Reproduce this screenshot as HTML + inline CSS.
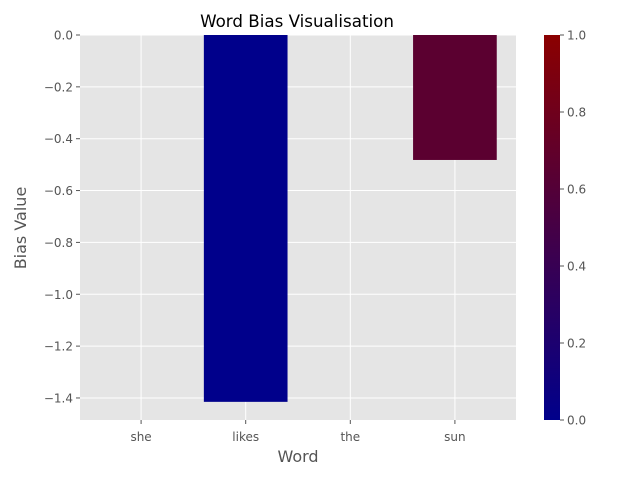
<!DOCTYPE html>
<html><head><meta charset="utf-8"><style>
body{margin:0;background:#fff;}
svg{font-family:"DejaVu Sans","Liberation Sans",sans-serif;}
</style></head><body>
<svg id="chart" width="640" height="480">
<defs><linearGradient id="cb" x1="0" y1="1" x2="0" y2="0">
<stop offset="0" stop-color="#00008b"/><stop offset="1" stop-color="#8b0000"/></linearGradient></defs>
<rect x="80" y="35" width="436" height="385" fill="#e5e5e5"/>
<g id="grid"></g><g id="bars"></g><g id="ticks"></g>
<text x="297" y="27" text-anchor="middle" font-size="16.7" fill="#000">Word Bias Visualisation</text>
<text x="298" y="462" text-anchor="middle" font-size="16" fill="#555">Word</text>
<text transform="translate(26,228) rotate(-90)" text-anchor="middle" font-size="16" fill="#555">Bias Value</text>
<rect x="544" y="35" width="16" height="385" fill="url(#cb)"/>
<g id="cbticks"></g>
</svg>
<script>
const categories=["she","likes","the","sun"];
const values=[0,-1.415,0,-0.482];
const barColors=["#00008b","#00008b","#00008b","#5b0030"];
const yTicks=[0,-0.2,-0.4,-0.6,-0.8,-1.0,-1.2,-1.4];
const cbTicks=[0,0.2,0.4,0.6,0.8,1.0];
const NS="http://www.w3.org/2000/svg";
const L=80,R=516,T=35,B=420,yMin=-1.485,xMin=-0.584,xMax=3.584;
const y=v=>T+(0-v)/(0-yMin)*(B-T);
const x=i=>L+(i-xMin)/(xMax-xMin)*(R-L);
function mk(t,a,p){const e=document.createElementNS(NS,t);for(const k in a)e.setAttribute(k,a[k]);document.getElementById(p).appendChild(e);return e;}
yTicks.forEach(v=>{
 const g=mk("line",{x1:L,x2:R,y1:y(v),y2:y(v),stroke:"#fff","stroke-width":1},"grid");
 
 
 const tk=mk("line",{x1:L-4,x2:L,y1:y(v),y2:y(v),stroke:"#555"},"ticks");
 
 
 const t=mk("text",{x:L-7,y:y(v)+4.5,"text-anchor":"end","font-size":12,fill:"#555"},"ticks");
 t.textContent=(v===0?"0.0":(v<0?"\u2212":"")+Math.abs(v).toFixed(1));
 
 
});
categories.forEach((c,i)=>{
 const g=mk("line",{x1:x(i),x2:x(i),y1:T,y2:B,stroke:"#fff"},"grid");
 
 
 const w=0.8*(R-L)/(xMax-xMin);
 const v=values[i];
 const b=mk("rect",{x:x(i)-w/2,y:Math.min(y(0),y(v)),width:w,height:Math.abs(y(v)-y(0)),fill:barColors[i]},"bars");
 
 
 const tk=mk("line",{x1:x(i),x2:x(i),y1:B,y2:B+4,stroke:"#555"},"ticks");
 
 
 const t=mk("text",{x:x(i),y:B+21,"text-anchor":"middle","font-size":12,fill:"#555"},"ticks");
 t.textContent=c;
 
 
});
cbTicks.forEach(v=>{
 const yy=B-v*(B-T);
 const tk=mk("line",{x1:560,x2:564,y1:yy,y2:yy,stroke:"#555"},"cbticks");
 
 
 const t=mk("text",{x:567,y:yy+4.5,"font-size":12,fill:"#555"},"cbticks");
 t.textContent=v.toFixed(1);
 
 
});
</script>
</body></html>
